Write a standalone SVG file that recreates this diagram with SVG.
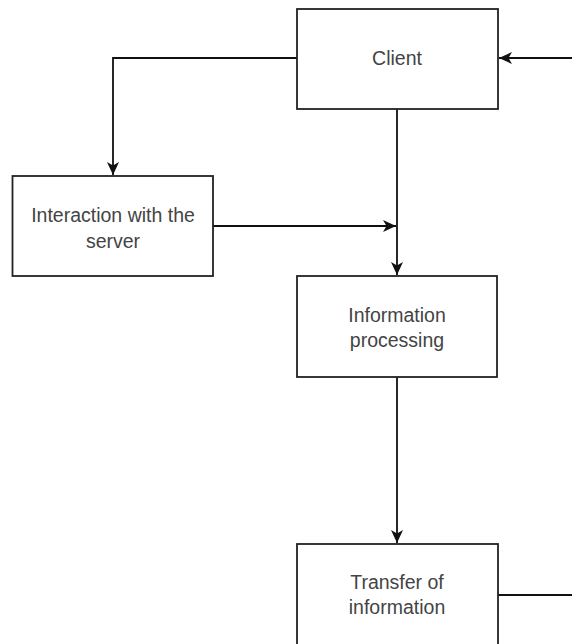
<svg xmlns="http://www.w3.org/2000/svg" width="572" height="644" viewBox="0 0 572 644">
<style>
.box{fill:#fff;stroke:#222;stroke-width:1.8}
.lbl{font-family:"Liberation Sans",Arial,sans-serif;font-size:19.5px;fill:#444;text-anchor:middle}
.con{fill:none;stroke:#111;stroke-width:1.8}
</style>
<defs>
<marker id="arr" markerWidth="14" markerHeight="12" refX="13" refY="6" orient="auto" markerUnits="userSpaceOnUse">
<path d="M0,0 L13,6 L0,12 L3.5,6 Z" fill="#111"/>
</marker>
</defs>
<rect width="572" height="644" fill="#fff"/>
<g id="connectors">
<path class="con" d="M297,58 H113 V175" marker-end="url(#arr)"/>
<path class="con" d="M213,226 H396" marker-end="url(#arr)"/>
<path class="con" d="M397,109 V275" marker-end="url(#arr)"/>
<path class="con" d="M397,377 V543" marker-end="url(#arr)"/>
<path class="con" d="M572,58 H499" marker-end="url(#arr)"/>
<path class="con" d="M498,595 H572"/>
</g>
<g id="client">
<rect class="box" x="297" y="9" width="201" height="100"/>
<text class="lbl" x="397" y="65">Client</text>
</g>
<g id="interaction">
<rect class="box" x="12.5" y="176" width="200.5" height="100"/>
<text class="lbl" x="113" y="222">Interaction with the</text>
<text class="lbl" x="113" y="248">server</text>
</g>
<g id="processing">
<rect class="box" x="297" y="276" width="200" height="101"/>
<text class="lbl" x="397" y="322">Information</text>
<text class="lbl" x="397" y="347">processing</text>
</g>
<g id="transfer">
<rect class="box" x="297" y="544" width="201" height="110"/>
<text class="lbl" x="397" y="589">Transfer of</text>
<text class="lbl" x="397" y="614">information</text>
</g>
</svg>
